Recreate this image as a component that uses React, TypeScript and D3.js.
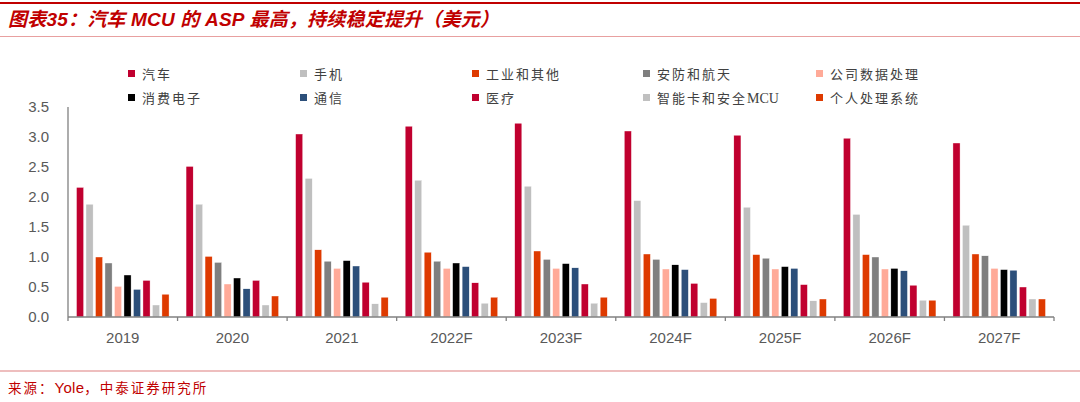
import React from "react";
import * as d3 from "d3";

const categories = ["2019", "2020", "2021", "2022F", "2023F", "2024F", "2025F", "2026F", "2027F"];
const seriesNames = ["汽车", "手机", "工业和其他", "安防和航天", "公司数据处理", "消费电子", "通信", "医疗", "智能卡和安全MCU", "个人处理系统"];
const seriesColors = ["#C0002F", "#BFBFBF", "#DE3A00", "#7F7F7F", "#FFAA98", "#000000", "#2C4F7A", "#C0002F", "#C0C0C0", "#DE3A00"];

const auto = [2.16, 2.51, 3.05, 3.18, 3.23, 3.1, 3.03, 2.98, 2.9];
const phone = [1.88, 1.88, 2.31, 2.28, 2.18, 1.94, 1.83, 1.71, 1.53];
const industrial = [1.0, 1.01, 1.12, 1.08, 1.1, 1.05, 1.04, 1.04, 1.05];
const security = [0.9, 0.91, 0.93, 0.93, 0.96, 0.96, 0.98, 1.0, 1.02];
const dataProc = [0.51, 0.55, 0.81, 0.81, 0.81, 0.8, 0.8, 0.8, 0.81];
const consumer = [0.7, 0.65, 0.94, 0.9, 0.89, 0.87, 0.84, 0.81, 0.79];
const telecom = [0.46, 0.47, 0.85, 0.84, 0.82, 0.79, 0.81, 0.77, 0.78];
const medical = [0.61, 0.61, 0.58, 0.57, 0.55, 0.56, 0.54, 0.53, 0.5];
const smartCard = [0.2, 0.2, 0.22, 0.23, 0.23, 0.24, 0.27, 0.28, 0.3];
const personal = [0.38, 0.35, 0.33, 0.33, 0.33, 0.31, 0.3, 0.28, 0.3];
const seriesValues = [auto, phone, industrial, security, dataProc, consumer, telecom, medical, smartCard, personal];

const yTicks = [0, 0.5, 1.0, 1.5, 2.0, 2.5, 3.0, 3.5];

const W = 1080;
const H = 402;
const plotLeft = 68;
const plotRight = 1054;
const plotTop = 107;
const plotBottom = 317;

const cjk = '"Noto Sans CJK SC", "Noto Sans", sans-serif';
const latin = '"Liberation Sans", Arial, sans-serif';

function splitLatin(s: string) {
  const parts = s.match(/[A-Za-z]+|[^A-Za-z]+/g) || [s];
  return parts.map((p, i) =>
    /[A-Za-z]/.test(p) ? (
      <tspan key={i} letterSpacing={0} fontFamily={'"Liberation Serif", "DejaVu Serif", serif'} fontSize={14}>
        {p}
      </tspan>
    ) : (
      <tspan key={i}>{p}</tspan>
    )
  );
}

export default function App() {
  const x0 = d3.scaleBand<string>().domain(categories).range([plotLeft, plotRight]).padding(0);
  const gw = x0.bandwidth();
  const x1 = d3
    .scaleBand<number>()
    .domain(d3.range(seriesNames.length))
    .range([8.5, gw - 8.5])
    .paddingInner(0.25)
    .paddingOuter(0);
  const y = d3.scaleLinear().domain([0, 3.5]).range([plotBottom, plotTop]);

  const legendCols = [128, 300, 472, 643, 816];
  const legendRows = [74, 98];

  return (
    <div style={{ position: "fixed", left: 0, top: 0 }}>
      <svg width={W} height={H} viewBox={`0 0 ${W} ${H}`} style={{ display: "block", background: "#fff" }}>
        {/* header */}
        <rect x={0} y={2} width={W} height={2} fill="#C00000" />
        <text
          x={8}
          y={26}
          fill="#C00000"
          fontSize={19}
          fontWeight="bold"
          fontStyle="italic"
          fontFamily={`"Liberation Sans", Arial, "Noto Sans CJK SC", sans-serif`}
          letterSpacing={0.2}
        >
          图表35：汽车 MCU 的 ASP 最高，持续稳定提升（美元）
        </text>
        <line x1={0} x2={W} y1={36.5} y2={36.5} stroke="#E8A0A0" strokeWidth={1} />

        {/* legend */}
        {seriesNames.map((name, i) => {
          const col = i % 5;
          const row = Math.floor(i / 5);
          const lx = legendCols[col];
          const ly = legendRows[row];
          return (
            <g key={name}>
              <rect x={lx} y={ly - 4} width={7} height={7} fill={seriesColors[i]} />
              <text
                x={lx + 14}
                y={ly + 4.5}
                fontSize={13}
                fill="#404040"
                fontFamily={cjk}
                letterSpacing={2}
              >
                {splitLatin(name)}
              </text>
            </g>
          );
        })}

        {/* y axis labels */}
        {yTicks.map((t) => (
          <text
            key={t}
            x={49}
            y={y(t) + 5}
            textAnchor="end"
            fontSize={15}
            fill="#595959"
            fontFamily={latin}
          >
            {t.toFixed(1)}
          </text>
        ))}

        {/* bars */}
        {categories.map((c, ci) => (
          <g key={c} transform={`translate(${x0(c)},0)`}>
            {seriesValues.map((vals, si) => (
              <rect
                key={si}
                x={x1(si)}
                y={y(vals[ci])}
                width={x1.bandwidth()}
                height={plotBottom - y(vals[ci])}
                fill={seriesColors[si]}
                stroke="#fff"
                strokeWidth={0.4}
              />
            ))}
          </g>
        ))}

        {/* axes */}
        <line x1={plotLeft} x2={plotLeft} y1={plotTop} y2={plotBottom} stroke="#808080" strokeWidth={1.3} />
        <line x1={plotLeft} x2={plotRight} y1={plotBottom} y2={plotBottom} stroke="#808080" strokeWidth={1.3} />
        {categories.map((c) => (
          <line key={"t" + c} x1={x0(c)} x2={x0(c)} y1={plotBottom} y2={plotBottom + 4} stroke="#808080" strokeWidth={1.3} />
        ))}
        <line x1={plotRight} x2={plotRight} y1={plotBottom} y2={plotBottom + 4} stroke="#808080" strokeWidth={1.3} />
        {categories.map((c) => (
          <text
            key={"l" + c}
            x={(x0(c) as number) + gw / 2}
            y={343}
            textAnchor="middle"
            fontSize={15}
            fill="#595959"
            fontFamily={latin}
          >
            {c}
          </text>
        ))}

        {/* footer */}
        <line x1={0} x2={W} y1={371} y2={371} stroke="#E8A8A8" strokeWidth={1.5} />
        <text
          x={8}
          y={393}
          fontSize={13.5}
          fill="#C00000"
          letterSpacing={2}
          fontFamily={`"Liberation Sans", Arial, "Noto Sans CJK SC", sans-serif`}
        >
          来源：<tspan letterSpacing={0.3} fontSize={15}>Yole</tspan>，中泰证券研究所
        </text>
      </svg>
    </div>
  );
}
